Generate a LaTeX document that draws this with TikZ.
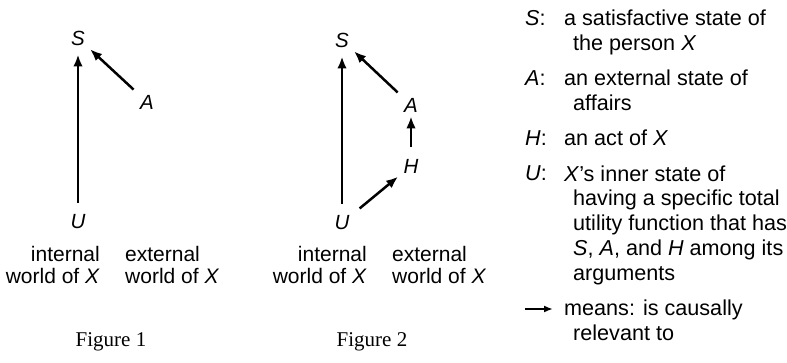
\documentclass[tikz,border=0pt]{standalone}
\usepackage{fontspec}
\setmainfont{Liberation Serif}
\setsansfont{Liberation Sans}
\usetikzlibrary{arrows.meta, positioning, calc}

\tikzset{
  var/.style={circle, inner sep=4.5pt, font=\fontsize{20.5}{20}\selectfont\sffamily\itshape},
  cause/.style={-{Latex[length=12pt,width=9.5pt]}, line width=2.5pt, shorten <=2pt},
  world/.style={inner sep=0pt, font=\fontsize{21}{22}\selectfont\sffamily},
  legtext/.style={inner sep=0pt, anchor=base west, align=left, font=\fontsize{21.6}{25}\selectfont\sffamily},
  figcap/.style={inner sep=0pt, anchor=base, font=\fontsize{21}{21}\selectfont}
}
\newcommand{\contline}{\hspace*{9pt}}

\begin{document}
\begin{tikzpicture}[x=1pt, y=-1pt]
\useasboundingbox (0,0) rectangle (787,363);

% Figure 1
\node[var] (s1) at (78,38) {S};
\node[var] (a1) at (147,102) {A};
\node[var] (u1) at (78,222) {U};
\draw[cause] (u1) -- (s1);
\draw[cause] (a1) -- (s1);
% multi-line nodes sit on the baseline of their last line
\node[world, anchor=base east, align=right] (int1) at (100,284) {internal\\world of \textit{X}};
\node[world, anchor=base west, align=left] (ext1) at (125,284) {external\\world of \textit{X}};
\node[figcap] (cap1) at (111,346) {Figure 1};

% Figure 2
\node[var] (s2) at (342,40) {S};
\node[var] (a2) at (411,105) {A};
\node[var] (h2) at (411,166) {H};
\node[var] (u2) at (342,223) {U};
\draw[cause] (u2) -- (s2);
\draw[cause] (a2) -- (s2);
\draw[cause, shorten >=-5pt] (h2) -- (a2);
\draw[cause, shorten <=6pt] (u2) -- (h2);
\node[world, anchor=base east, align=right] (int2) at (367,284) {internal\\world of \textit{X}};
\node[world, anchor=base west, align=left] (ext2) at (392,284) {external\\world of \textit{X}};
\node[figcap] (cap2) at (372,346) {Figure 2};

% legend
\node[legtext] (sLab) at (525,26) {\textit{S}:};
\node[legtext] (sDesc) at (564,51) {a satisfactive state of\\\contline the person \textit{X}};
\node[legtext] (aLab) at (525,86) {\textit{A}:};
\node[legtext] (aDesc) at (564,111) {an external state of\\\contline affairs};
\node[legtext] (hLab) at (525,146) {\textit{H}:};
\node[legtext] (hDesc) at (564,146) {an act of \textit{X}};
\node[legtext] (uLab) at (525,181) {\textit{U}:};
\node[legtext] (uDesc) at (564,281) {\textit{X}'s inner state of\\\contline having a specific total\\\contline utility function that has\\\contline \textit{S}, \textit{A}, and \textit{H} among its\\\contline arguments};
\coordinate (keyA) at (525,309);
\coordinate (keyB) at (553,309);
\draw[-{Latex[length=9pt,width=7pt]}, line width=1.8pt] (keyA) -- (keyB);
\node[legtext] (mDesc) at (564,341) {means: is causally\\\contline relevant to};
\end{tikzpicture}
\end{document}
